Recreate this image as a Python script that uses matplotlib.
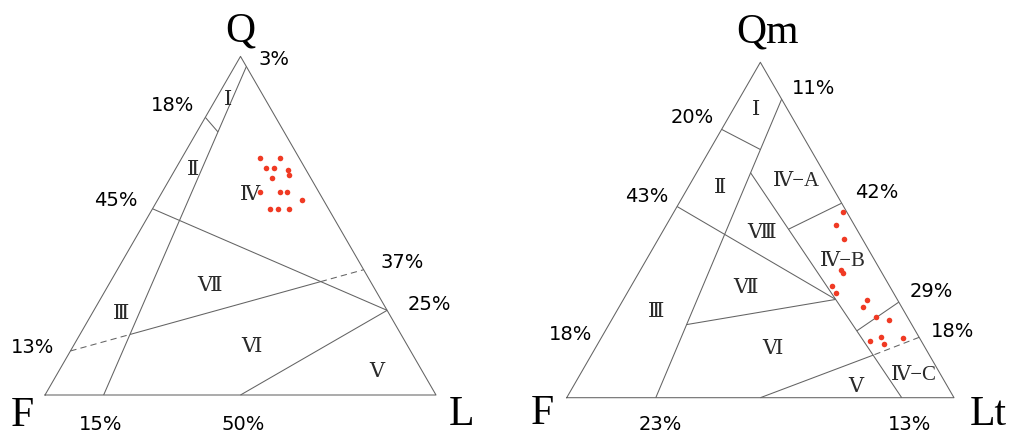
import numpy as np
import matplotlib
matplotlib.use("Agg")
import matplotlib.pyplot as plt

# ternary compositions are given as (top, left, right) percentages
# left diagram: Q - F - L
QFL_POINTS_Q = [70, 70, 67, 67, 66.5, 65, 64, 60, 60, 60, 57.5, 55, 55, 55]
QFL_POINTS_F = [10, 5, 10, 8, 4.5, 5, 10, 15, 10, 8, 5.5, 15, 13, 10]
QFL_POINTS_L = [20, 25, 23, 25, 29, 30, 26, 25, 30, 32, 37, 30, 32, 35]

# right diagram: Qm - F - Lt
QMFLT_POINTS_QM = [55.4, 51.4, 47.2, 38.2, 37.3, 33.2, 31.2, 29.1, 27.1, 24.1, 23.3, 16.8, 18.1, 16.0, 17.7]
QMFLT_POINTS_F = [0.9, 4.8, 4.9, 10.0, 9.9, 14.9, 14.9, 7.8, 9.9, 8.0, 5.2, 13.2, 9.9, 10.0, 4.4]
QMFLT_POINTS_LT = [43.7, 43.8, 47.9, 51.8, 52.8, 51.9, 53.9, 63.1, 63.0, 67.9, 71.5, 70.0, 72.0, 74.0, 77.9]

LINE = "#636363"
DOT = "#f03a24"
SERIF = ["Liberation Serif", "DejaVu Serif"]
SANS = ["DejaVu Sans"]


def tern(q, f, l):
    s = q + f + l
    return np.array([(l + q / 2) / s, q / s * np.sqrt(3) / 2])


def meet(a, b, c, d):
    # where the line a-b crosses the line c-d
    r, s = b - a, d - c
    t = ((c - a)[0] * s[1] - (c - a)[1] * s[0]) / (r[0] * s[1] - r[1] * s[0])
    return a + t * r


def seg(ax, a, b, ls="-"):
    ax.plot([a[0], b[0]], [a[1], b[1]], color=LINE, lw=0.75, ls=ls, dashes=(6, 4) if ls == "--" else (None, None), solid_capstyle="butt")


def frame(ax):
    tri = [tern(0, 100, 0), tern(0, 0, 100), tern(100, 0, 0), tern(0, 100, 0)]
    ax.plot([p[0] for p in tri], [p[1] for p in tri], color=LINE, lw=0.75)


def label(ax, x, y, s, size=15, family=SERIF, color="#2a2a2a"):
    ax.text(x, y, s, ha="center", va="baseline", fontsize=size, family=family, color=color)


fig = plt.figure(figsize=(10.11, 4.33), dpi=100)

# ---------------- Q F L ----------------
ax = fig.add_axes([0, 0, 505 / 1011, 1])
ax.set_xlim((0 - 45) / 391, (505 - 45) / 391)
ax.set_ylim((395 - 433) / 391, 395 / 391)
ax.axis("off")
frame(ax)
a1, b1 = tern(97, 0, 3), tern(0, 85, 15)
seg(ax, a1, b1)
e18 = tern(82, 18, 0)
seg(ax, e18, meet(e18, tern(78, 17, 5), a1, b1))
p25 = tern(25, 0, 75)
a45 = tern(55, 45, 0)
seg(ax, a45, p25)
seg(ax, tern(0, 50, 50), p25)
d0, d1 = tern(13, 87, 0), tern(37, 0, 63)
x1, x2 = meet(d0, d1, a1, b1), meet(d0, d1, a45, p25)
seg(ax, d0, x1, "--")
seg(ax, x1, x2)
seg(ax, x2, d1, "--")
pts = [tern(q, f, l) for q, f, l in zip(QFL_POINTS_Q, QFL_POINTS_F, QFL_POINTS_L)]
ax.plot([p[0] for p in pts], [p[1] for p in pts], "o", color=DOT, ms=4, mew=0, ls="none")

for x, y, s in [(0.4688, 0.7417, "Ⅰ"), (0.3793, 0.5627, "Ⅱ"), (0.5243, 0.4987, "Ⅳ"), (0.4207, 0.2668, "Ⅶ"),
                (0.1951, 0.1936, "Ⅲ"), (0.5286, 0.1108, "Ⅵ"), (0.8483, 0.0452, "Ⅴ")]:
    label(ax, x, y, s)
for x, y, s in [(0.585, 0.844, "3%"), (0.326, 0.727, "18%"), (0.182, 0.484, "45%"), (0.913, 0.324, "37%"),
                (0.983, 0.217, "25%"), (-0.033, 0.107, "13%"), (0.142, -0.0895, "15%"), (0.508, -0.0895, "50%")]:
    label(ax, x, y, s, 14, SANS, "black")
label(ax, 0.4987, 0.9036, "Q", 30, color="black")
label(ax, -0.0575, -0.079, "F", 30, color="black")
label(ax, 1.0657, -0.0767, "L", 30, color="black")

# ---------------- Qm F Lt ----------------
ax = fig.add_axes([505 / 1011, 0, 506 / 1011, 1])
ax.set_xlim((505 - 566.7) / 387.3, (1011 - 566.7) / 387.3)
ax.set_ylim((397.7 - 433) / 387.3, 397.7 / 387.3)
ax.axis("off")
frame(ax)
r1a, r1b = tern(89, 0, 11), tern(0, 77, 23)
junction = tern(29.3, 15.9, 54.8)
base13 = tern(0, 13.5, 86.5)
top3 = meet(base13, junction, r1a, r1b)
seg(ax, r1a, r1b)
seg(ax, top3, base13)
e20 = tern(80, 20, 0)
seg(ax, e20, meet(e20, tern(74, 13, 13), r1a, r1b))
seg(ax, tern(57, 43, 0), junction)
seg(ax, junction, meet(junction, tern(22, 57, 21), r1a, r1b))
e42 = tern(58, 0, 42)
seg(ax, e42, meet(e42, tern(50.5, 17, 32.5), base13, junction))
e29 = tern(28.5, 0, 71.5)
seg(ax, e29, meet(e29, tern(20, 15, 65), base13, junction))
e18r = tern(18, 0, 82)
k = meet(e18r, tern(12.7, 14.5, 72.8), base13, junction)
seg(ax, e18r, k, "--")
seg(ax, tern(0, 50, 50), k)
pts = [tern(q, f, l) for q, f, l in zip(QMFLT_POINTS_QM, QMFLT_POINTS_F, QMFLT_POINTS_LT)]
ax.plot([p[0] for p in pts], [p[1] for p in pts], "o", color=DOT, ms=4, mew=0, ls="none")

for x, y, s in [(0.4896, 0.7299, "Ⅰ"), (0.3966, 0.5293, "Ⅱ"), (0.5933, 0.5474, "Ⅳ−A"), (0.503, 0.4116, "Ⅷ"),
                (0.7134, 0.3408, "Ⅳ−B"), (0.4604, 0.2711, "Ⅶ"), (0.2314, 0.2076, "Ⅲ"), (0.5314, 0.1128, "Ⅵ"),
                (0.7464, 0.0155, "Ⅴ"), (0.8959, 0.0457, "Ⅳ−C")]:
    label(ax, x, y, s)
for x, y, s in [(0.6378, 0.7842, "11%"), (0.3248, 0.7085, "20%"), (0.2073, 0.5045, "43%"), (0.8012, 0.5148, "42%"),
                (0.9414, 0.2592, "29%"), (0.0106, 0.149, "18%"), (0.9956, 0.156, "18%"), (0.2417, -0.0834, "23%"),
                (0.8856, -0.0834, "13%")]:
    label(ax, x, y, s, 14, SANS, "black")
label(ax, 0.5172, 0.9166, "Qm", 30, color="black")
label(ax, -0.0625, -0.068, "F", 30, color="black")
label(ax, 1.0886, -0.0705, "Lt", 30, color="black")

fig.savefig("out.png", dpi=100)
